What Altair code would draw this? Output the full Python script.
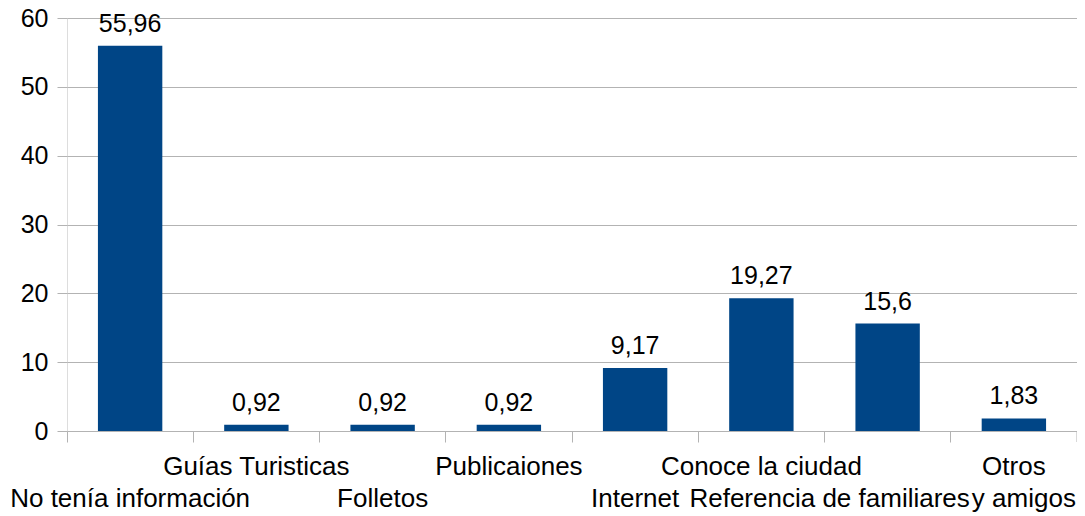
import altair as alt
import pandas as pd

categories = ["No tenía información", "Guías Turisticas", "Folletos", "Publicaiones",
              "Internet", "Conoce la ciudad", "Referencia de familiares", "Otros y amigos"]
label_line1 = ["", "Guías Turisticas", "", "Publicaiones", "", "Conoce la ciudad", "", "Otros"]
label_line2 = ["No tenía información", "", "Folletos", "", "Internet", "",
               "Referencia de familiares", "y amigos"]
label_shift = [0, 0, 0, 0, 0, 0, -1, 1]
values = [55.96, 0.92, 0.92, 0.92, 9.17, 19.27, 15.6, 1.83]
y_ticks = [0, 10, 20, 30, 40, 50, 60]

df = pd.DataFrame({
    "cat": categories,
    "l1": label_line1,
    "l2": label_line2,
    "shift": label_shift,
    "value": values,
    "vlabel": [str(v).replace(".", ",") for v in values],
})

FONT = "Liberation Sans"
GRID = "#b3b3b3"
W, H = 1010, 413

xenc = alt.X("cat:N", sort=categories, title=None,
             scale=alt.Scale(paddingInner=0, paddingOuter=0),
             axis=alt.Axis(labels=False, domain=False, ticks=True, tickSize=11,
                           tickColor=GRID, bandPosition=0, grid=False))
yenc = alt.Y("value:Q", title=None,
             scale=alt.Scale(domain=[0, 60], nice=False),
             axis=alt.Axis(values=y_ticks, grid=True, gridColor=GRID, domain=False,
                           tickSize=10, tickColor=GRID, labelFontSize=25,
                           labelFont=FONT, labelColor="black", labelPadding=9))

base = alt.Chart(df)
xcat = alt.X("cat:N", sort=categories)

bars = base.mark_bar(color="#004586", width=alt.RelativeBandSize(0.51)).encode(x=xenc, y=yenc)

vlabels = base.mark_text(font=FONT, fontSize=25, color="black", baseline="alphabetic",
                         dy=-14).encode(x=xcat, y=alt.Y("value:Q"), text="vlabel:N")

txt = dict(font=FONT, fontSize=26, color="black", baseline="alphabetic")

row1 = base.transform_filter("datum.l1 != ''").mark_text(**txt).encode(
    x=xcat, y=alt.value(H + 44), text="l1:N")

row2 = base.transform_filter("datum.l2 != '' && datum.shift == 0").mark_text(**txt).encode(
    x=xcat, y=alt.value(H + 76), text="l2:N")

row2_left = base.transform_filter("datum.shift < 0").mark_text(dx=-58, **txt).encode(
    x=xcat, y=alt.value(H + 76), text="l2:N")

row2_right = base.transform_filter("datum.shift > 0").mark_text(dx=10, **txt).encode(
    x=xcat, y=alt.value(H + 76), text="l2:N")

edge_tick = alt.Chart(pd.DataFrame({"k": [0]})).mark_rule(color=GRID).encode(
    x=alt.value(W), y=alt.value(H), y2=alt.value(H + 11))

chart = alt.layer(bars, vlabels, row1, row2, row2_left, row2_right, edge_tick).properties(
    width=W, height=H,
    autosize=alt.AutoSizeParams(type="none"),
    padding={"left": 59, "top": 10, "right": 0, "bottom": 84},
).configure_view(stroke=GRID, strokeWidth=1).configure(background="white")

chart.save("out.html", embed_options={"renderer": "svg", "actions": False})
